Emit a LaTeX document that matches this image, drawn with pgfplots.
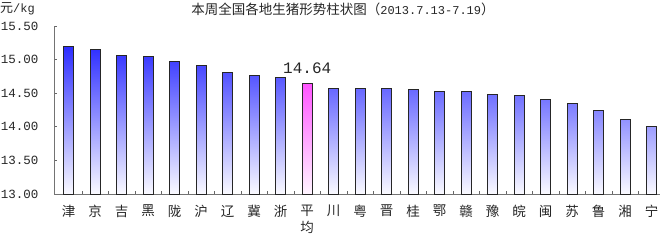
\documentclass[border=0pt]{standalone}
\usepackage{pgfplots}
\pgfplotsset{compat=1.18}
\usepackage{fontspec}
\setmainfont{Liberation Mono}
\newfontfamily\cjk{Noto Sans CJK SC}
\definecolor{bartop}{HTML}{2E2EFF}
\definecolor{barbot}{HTML}{FAFAFF}
\definecolor{pinktop}{HTML}{FF55FF}
\definecolor{pinkbot}{HTML}{FFF5FF}
\begin{document}
\begin{tikzpicture}
\path[use as bounding box] (-54pt,-47pt) rectangle (606pt,194pt);
\begin{axis}[
  at={(0pt,0pt)}, anchor=south west,
  scale only axis, width=606pt, height=168pt,
  xmin=-0.5547, xmax=22.313,
  ymin=13, ymax=15.5,
  y coord trafo/.code={\pgfmathparse{#1-13}},
  y coord inv trafo/.code={\pgfmathparse{#1+13}},
  axis x line*=bottom, axis y line*=left,
  axis line style={black!55, line width=0.8pt},
  tick align=inside,
  major tick length=3pt, minor tick length=3pt,
  every tick/.style={black!60, line width=0.8pt},
  major x tick style={draw=none},
  ytick={13,13.5,14,14.5,15,15.5},
  yticklabels={13.00,13.50,14.00,14.50,15.00,15.50},
  yticklabel style={font=\fontsize{12.5}{14}\selectfont, anchor=east, xshift=-12pt, text=black!85},
  xtick={0,1,...,22},
  minor xtick={0.5,1.5,...,21.5},
  xticklabels={津,京,吉,黑,陇,沪,辽,冀,浙,平\\均,川,粤,晋,桂,鄂,赣,豫,皖,闽,苏,鲁,湘,宁},
  xticklabel style={font=\cjk\fontsize{13.5}{17}\selectfont, align=center, anchor=north, yshift=-7.5pt, text=black!85},
  clip=false,
]
\addplot[ybar, bar width=10pt, bar shift=0pt, draw=black!85, line width=1pt,
  top color=bartop, bottom color=barbot] coordinates {
  (0,15.19) (1,15.15) (2,15.06) (3,15.05) (4,14.97) (5,14.91) (6,14.81) (7,14.77) (8,14.74)
  (10,14.57) (11,14.57) (12,14.57) (13,14.56) (14,14.53) (15,14.52) (16,14.48) (17,14.47)
  (18,14.40) (19,14.34) (20,14.25) (21,14.11) (22,14.00)
};
\addplot[ybar, bar width=10pt, bar shift=0pt, draw=black!85, line width=1pt,
  top color=pinktop, bottom color=pinkbot,
  point meta=explicit symbolic,
  nodes near coords,
  nodes near coords style={font=\fontsize{16}{18}\selectfont, anchor=south, yshift=6pt, text=black!85}
  ] coordinates {
  (9,14.64) [14.64]
};
\end{axis}
\node[anchor=center, inner sep=0pt, text=black!85] at (289pt,185pt) {\cjk\fontsize{13.5}{15}\selectfont 本周全国各地生猪形势柱状图（{\rmfamily\fontsize{12}{15}\selectfont 2013.7.13-7.19}）};
\node[anchor=west, inner sep=0pt, text=black!85] at (-54pt,185pt) {\cjk\fontsize{13}{15}\selectfont 元{\rmfamily\fontsize{12}{15}\selectfont /kg}};
\end{tikzpicture}
\end{document}
